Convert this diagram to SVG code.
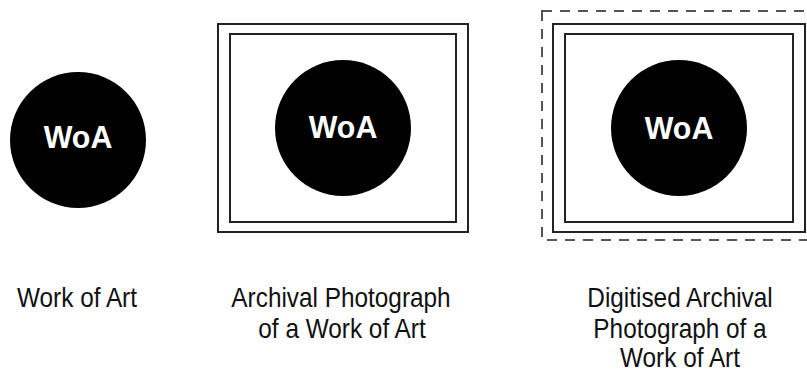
<svg xmlns="http://www.w3.org/2000/svg" width="807" height="374" viewBox="0 0 807 374">
  <style>
    .frame { fill: none; stroke: #222; stroke-width: 2; }
    .dash { fill: none; stroke: #555; stroke-width: 2; stroke-dasharray: 10 8; }
    .disc { fill: #000; }
    .woa { font-family: "Liberation Sans", Arial, sans-serif; font-weight: bold; font-size: 32px; fill: #fff; text-anchor: middle; }
    .label { font-family: "Liberation Sans", Arial, sans-serif; font-size: 28px; fill: #111; text-anchor: middle; }
  </style>
  <rect width="807" height="374" fill="#fff"/>

  <g id="work-of-art">
    <circle class="disc" cx="78" cy="140" r="68"/>
    <text class="woa" transform="matrix(0.95 0 0 1 78 148)">WoA</text>
  </g>

  <g id="archival-photograph">
    <rect class="frame" x="218" y="24" width="250" height="208"/>
    <rect class="frame" x="230" y="34" width="226" height="188"/>
    <circle class="disc" cx="343" cy="128" r="68"/>
    <text class="woa" transform="matrix(0.95 0 0 1 343 138)">WoA</text>
  </g>

  <g id="digitised-archival-photograph">
    <rect class="dash" x="542" y="11" width="280" height="229"/>
    <rect class="frame" x="553" y="24" width="252" height="208"/>
    <rect class="frame" x="565" y="34" width="228" height="188"/>
    <circle class="disc" cx="679" cy="128" r="68"/>
    <text class="woa" transform="matrix(0.95 0 0 1 679 139)">WoA</text>
  </g>

  <g id="labels">
    <text class="label" transform="matrix(0.87 0 0 1 77 307)">Work of Art</text>
    <text class="label" transform="matrix(0.87 0 0 1 341 307)">Archival Photograph</text>
    <text class="label" transform="matrix(0.87 0 0 1 342 338)">of a Work of Art</text>
    <text class="label" transform="matrix(0.87 0 0 1 680 307)">Digitised Archival</text>
    <text class="label" transform="matrix(0.87 0 0 1 680 338)">Photograph of a</text>
    <text class="label" transform="matrix(0.87 0 0 1 680 367)">Work of Art</text>
  </g>
</svg>
